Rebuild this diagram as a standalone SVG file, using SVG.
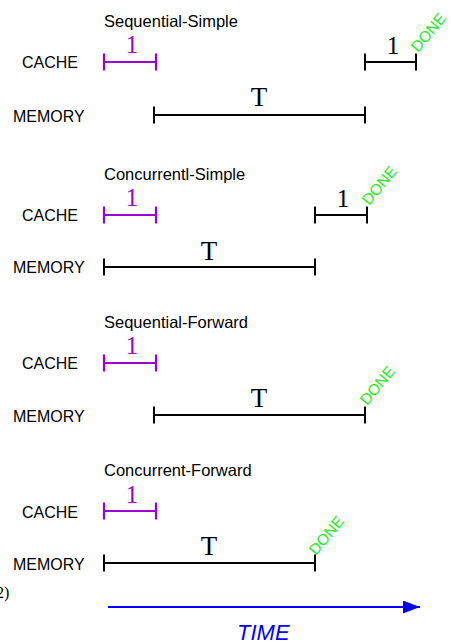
<svg xmlns="http://www.w3.org/2000/svg" width="451" height="643" viewBox="0 0 451 643">
  <style>
    .title { font-family: "Liberation Sans", Arial, sans-serif; font-size: 16.5px; fill: #000; }
    .lbl { font-family: "Liberation Sans", Arial, sans-serif; font-size: 16px; fill: #000; }
    .num { font-family: "Liberation Serif", "Times New Roman", serif; text-anchor: middle; }
    .one-p { font-size: 25px; fill: #9b00d0; }
    .one-b { font-size: 25px; fill: #000; }
    .t { font-size: 27px; fill: #000; }
    .done { font-family: "Liberation Sans", Arial, sans-serif; font-size: 15.5px; fill: #22ee22; }
    .bar-p { stroke: #9b00d0; stroke-width: 2.2; fill: none; }
    .bar-b { stroke: #000; stroke-width: 2; fill: none; }
  </style>
  <defs>
    <marker id="arrow" markerWidth="17" markerHeight="13" refX="17" refY="6.5" orient="auto" markerUnits="userSpaceOnUse">
      <path d="M0,0 L17,6.5 L0,13 Z" fill="#0000ff"/>
    </marker>
  </defs>
  <rect width="451" height="643" fill="#fff"/>

  <!-- Sequential-Simple -->
  <g id="sequential-simple">
    <text class="title" x="104" y="26.5">Sequential-Simple</text>
    <text class="lbl" x="22" y="68">CACHE</text>
    <text class="lbl" x="13" y="121.5">MEMORY</text>
    <path class="bar-p" d="M104,62 H156 M104,53.5 V70.5 M156,53.5 V70.5"/>
    <text class="num one-p" x="132" y="53">1</text>
    <path class="bar-b" d="M365,62 H416 M365,53.5 V70.5 M416,53.5 V70.5"/>
    <text class="num one-b" x="393" y="54">1</text>
    <path class="bar-b" d="M154,115 H365 M154,106.5 V123.5 M365,106.5 V123.5"/>
    <text class="num t" x="259" y="106">T</text>
    <text class="done" transform="translate(418,53) rotate(-50)">DONE</text>
  </g>

  <!-- Concurrentl-Simple -->
  <g id="concurrent-simple">
    <text class="title" x="104" y="180">Concurrentl-Simple</text>
    <text class="lbl" x="22" y="221">CACHE</text>
    <text class="lbl" x="13" y="273">MEMORY</text>
    <path class="bar-p" d="M104,215 H156 M104,206.5 V223.5 M156,206.5 V223.5"/>
    <text class="num one-p" x="132" y="206">1</text>
    <path class="bar-b" d="M315,215 H367 M315,206.5 V223.5 M367,206.5 V223.5"/>
    <text class="num one-b" x="343" y="207">1</text>
    <path class="bar-b" d="M104,267 H315 M104,258.5 V275.5 M315,258.5 V275.5"/>
    <text class="num t" x="209" y="260">T</text>
    <text class="done" transform="translate(369,206) rotate(-50)">DONE</text>
  </g>

  <!-- Sequential-Forward -->
  <g id="sequential-forward">
    <text class="title" x="104" y="327.5">Sequential-Forward</text>
    <text class="lbl" x="22" y="369">CACHE</text>
    <text class="lbl" x="13" y="422">MEMORY</text>
    <path class="bar-p" d="M104,363 H156 M104,354.5 V371.5 M156,354.5 V371.5"/>
    <text class="num one-p" x="132" y="354">1</text>
    <path class="bar-b" d="M154,415 H365 M154,406.5 V423.5 M365,406.5 V423.5"/>
    <text class="num t" x="259" y="407">T</text>
    <text class="done" transform="translate(367,406) rotate(-50)">DONE</text>
  </g>

  <!-- Concurrent-Forward -->
  <g id="concurrent-forward">
    <text class="title" x="104" y="476">Concurrent-Forward</text>
    <text class="lbl" x="22" y="517.5">CACHE</text>
    <text class="lbl" x="13" y="570">MEMORY</text>
    <path class="bar-p" d="M104,511 H156 M104,502.5 V519.5 M156,502.5 V519.5"/>
    <text class="num one-p" x="132" y="503">1</text>
    <path class="bar-b" d="M104,563 H315 M104,554.5 V571.5 M315,554.5 V571.5"/>
    <text class="num t" x="209" y="555">T</text>
    <text class="done" transform="translate(316,556) rotate(-50)">DONE</text>
  </g>

  <text x="-4" y="598" font-family="'Liberation Serif', 'Times New Roman', serif" font-size="16" fill="#000">2)</text>

  <!-- time axis -->
  <g id="time-axis">
    <line x1="108" y1="607" x2="420" y2="607" stroke="#0000ff" stroke-width="2" marker-end="url(#arrow)"/>
    <text x="237" y="640" font-family="'Liberation Sans', Arial, sans-serif" font-size="22" font-style="italic" fill="#0000ff">TIME</text>
  </g>
</svg>
